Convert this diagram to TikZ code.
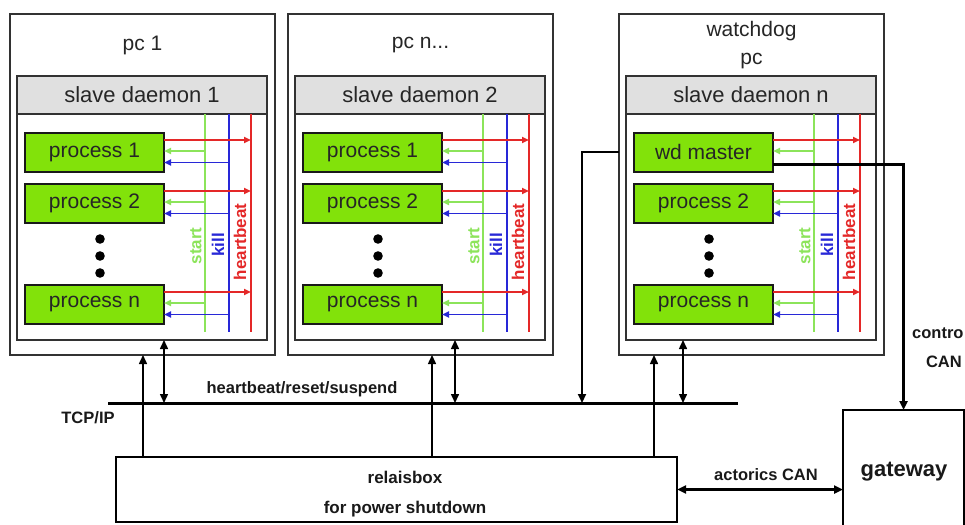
\documentclass[tikz,border=0pt]{standalone}
\usepackage{fontspec}
\setmainfont{Liberation Sans}
\usetikzlibrary{arrows.meta,calc}

\definecolor{procfill}{RGB}{130,226,10}
\definecolor{headfill}{RGB}{224,224,224}
\definecolor{startcol}{RGB}{140,228,90}
\definecolor{killcol}{RGB}{40,40,215}
\definecolor{hbcol}{RGB}{228,40,40}
\definecolor{framecol}{RGB}{50,50,50}

\tikzset{
  pcbox/.style={draw=framecol, line width=1.3pt, fill=white, rectangle,
    minimum width=265pt, minimum height=341pt, inner sep=0pt, outer sep=0pt},
  daemonbox/.style={draw=framecol, line width=2pt, fill=white, rectangle,
    minimum width=250pt, minimum height=264pt, inner sep=0pt, outer sep=0pt},
  headerbox/.style={draw=framecol, line width=2pt, fill=headfill, rectangle,
    minimum width=250pt, minimum height=38pt, inner sep=0pt, outer sep=0pt,
    font=\fontsize{22}{26}\selectfont, text=black!85},
  procbox/.style={draw=black!90, line width=2pt, fill=procfill, rectangle,
    minimum width=139pt, minimum height=39pt, inner sep=0pt, outer sep=0pt,
    font=\fontsize{21}{25}\selectfont, text=black!85},
  titletext/.style={font=\fontsize{21}{28}\selectfont, align=center, text=black!85, inner sep=0pt},
  startline/.style={draw=startcol, line width=1.8pt},
  killline/.style={draw=killcol, line width=1.8pt},
  hbline/.style={draw=hbcol, line width=1.8pt},
  smalltip/.style={-{Triangle[length=7pt,width=6pt]}},
  sidelabel/.style={font=\bfseries\fontsize{17}{20}\selectfont, rotate=90, inner sep=0pt},
  conn/.style={draw=black, line width=1.5pt},
  heavy/.style={draw=black, line width=3pt},
  bigtip/.style={-{Triangle[length=9pt,width=8pt]}},
  twotips/.style={{Triangle[length=9pt,width=8pt]}-{Triangle[length=9pt,width=8pt]}},
  boldlabel/.style={font=\bfseries\fontsize{16.5}{20}\selectfont, inner sep=0pt, text=black!90},
  plainbox/.style={draw=black, line width=1.5pt, fill=white, rectangle, inner sep=0pt, outer sep=0pt},
  % one computer: outer frame, slave daemon, its processes and signal lines
  pics/pcunit/.style n args={4}{code={
    \node[pcbox] (box) at (132.5,184.5) {};
    \node[titletext] (title) at (132.5,45) {#1};
    \node[daemonbox] (daemon) at (132,208) {};
    \node[headerbox] (head) at (132,95) {#2};
    \node[procbox] (p1) at (84.5,152) {#3};
    \node[procbox] (p2) at (84.5,203) {process 2};
    \node[procbox] (pn) at (84.5,304) {process n};
    \foreach \k in {1,2,3} \fill[black] (90,{222+17*\k}) circle (4.8pt);
    \coordinate (gtop) at (195,114); \coordinate (gbot) at (195,332);
    \coordinate (ktop) at (219,114); \coordinate (kbot) at (219,332);
    \coordinate (htop) at (241,114); \coordinate (hbot) at (241,332);
    \draw[startline] (gtop) -- (gbot);
    \draw[killline] (ktop) -- (kbot);
    \draw[hbline] (htop) -- (hbot);
    \foreach \p in {p1,p2,pn} {
      \coordinate (\p-r) at ([yshift=-7.5pt]\p.north east);
      \coordinate (\p-g) at ([yshift=-18.5pt]\p.north east);
      \coordinate (\p-k) at ([yshift=-30pt]\p.north east);
      \draw[hbline, smalltip] (\p-r) -- (\p-r -| htop);
      \draw[startline, smalltip] (\p-g -| gtop) -- (\p-g);
    }
    \draw[killline, smalltip] (p2-k -| ktop) -- (p2-k);
    \draw[killline, smalltip] (pn-k -| ktop) -- (pn-k);
    \ifnum#4=1 \draw[killline, smalltip] (p1-k -| ktop) -- (p1-k); \fi
    \node[sidelabel, text=startcol] (startlab) at (186,246) {start};
    \node[sidelabel, text=killcol] (killlab) at (208,245) {kill};
    \node[sidelabel, text=hbcol] (hblab) at (230,242) {heartbeat};
  }}
}

\begin{document}
\begin{tikzpicture}[x=1pt, y=-1pt]
  \useasboundingbox (0,0) rectangle (965,524);
  \clip (0,0) rectangle (965,524);

  % the three computers
  \pic (A-) at (10,0) {pcunit={pc 1}{slave daemon 1}{process 1}{1}};
  \pic (B-) at (288,0) {pcunit={pc n...}{slave daemon 2}{process 1}{1}};
  \pic (W-) at (619,0) {pcunit={watchdog\\pc}{slave daemon n}{wd master}{0}};

  % network bus
  \coordinate (busL) at (108,403);
  \coordinate (busR) at (738,403);
  \draw[heavy] (busL) -- (busR);
  \node[boldlabel] (buslab) at (302,389) {heartbeat/reset/suspend};
  \node[boldlabel] (tcplab) at (88,418) {TCP/IP};

  % power relay box and CAN gateway
  \node[plainbox, minimum width=561pt, minimum height=65pt] (relais) at (396.5,489.5) {};
  \node[boldlabel, font=\bfseries\fontsize{17}{30}\selectfont, align=center]
    (relaislab) at (405,494) {relaisbox\\for power shutdown};
  \node[plainbox, minimum width=121pt, minimum height=130pt] (gw) at (903.5,475) {};
  \node[boldlabel, font=\bfseries\fontsize{22}{25}\selectfont] (gwlab) at (904,472) {gateway};

  % x positions of the vertical links
  \coordinate (c1) at (143,0);  \coordinate (d1) at (164,0);
  \coordinate (c2) at (432,0);  \coordinate (d2) at (455,0);
  \coordinate (c3) at (654,0);  \coordinate (d3) at (683,0);
  \coordinate (c4) at (582,0);

  % relay lines into each computer
  \draw[conn, bigtip] (relais.north -| c1) -- (A-box.south -| c1);
  \draw[conn, bigtip] (relais.north -| c2) -- (B-box.south -| c2);
  \draw[conn, bigtip] (relais.north -| c3) -- (W-box.south -| c3);

  % daemon links to the bus
  \draw[conn, twotips] (busL -| d1) -- (A-daemon.south -| d1);
  \draw[conn, twotips] (busL -| d2) -- (B-daemon.south -| d2);
  \draw[conn, twotips] (busL -| d3) -- (W-daemon.south -| d3);

  % watchdog master to the bus and to the gateway
  \draw[conn, line width=2pt, bigtip] (W-box.west |- W-p1) -| (busL -| c4);
  \draw[heavy, bigtip] ([yshift=-12pt]W-p1.east) -| (gw.north);
  \node[boldlabel, anchor=west] (ctrllab) at (912,333) {contro};
  \node[boldlabel, anchor=east] (canlab) at (962,362) {CAN};

  % actorics CAN between relay box and gateway
  \draw[heavy, twotips] (relais.east) -- (relais.east -| gw.west);
  \node[boldlabel] (actlab) at (766,475) {actorics CAN};
\end{tikzpicture}
\end{document}
